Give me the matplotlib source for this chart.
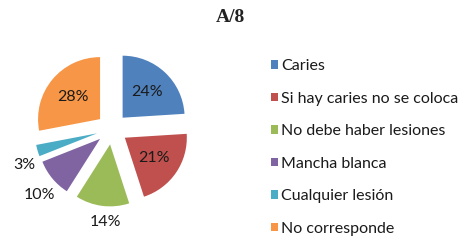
import numpy as np
import matplotlib
matplotlib.use('Agg')
import matplotlib.pyplot as plt

labels = ['Caries', 'Si hay caries no se coloca', 'No debe haber lesiones',
          'Mancha blanca', 'Cualquier lesión', 'No corresponde']
values = [24, 21, 14, 10, 3, 28]
colors = ['#4F81BD', '#C0504D', '#9BBB59', '#8064A2', '#4BACC6', '#F79646']

plt.rcParams['font.family'] = ['Lato', 'DejaVu Sans']

fig = plt.figure(figsize=(4.61, 2.47), dpi=100)
fig.text(0.5, 1 - 18 / 247, 'A/8', ha='center', va='center', fontsize=14,
         fontweight='bold', family='Liberation Serif', color='#222222')

# pie axes: 200x200 px box centred at (112, 129) px
ax = fig.add_axes([12 / 461, 1 - 229 / 247, 200 / 461, 200 / 247])
expl = 0.25
wedges, texts, autotexts = ax.pie(values, colors=colors, startangle=90, counterclock=False,
                                  explode=[expl] * len(values), autopct='%d%%',
                                  pctdistance=0.57,
                                  textprops=dict(fontsize=11.5, color='#1a1a1a'))
L = 100 / 62
ax.set_xlim(-L, L)
ax.set_ylim(-L, L)
ax.set_aspect('equal')

# small slices: labels outside
outside = {2: (1.5, 3), 3: (1.58, 3), 4: (1.52, 6)}
for i, (dist, shift) in outside.items():
    w = wedges[i]
    ang = np.deg2rad((w.theta1 + w.theta2) / 2 + shift)
    autotexts[i].set_position((dist * np.cos(ang), dist * np.sin(ang)))

fig.legend(wedges, labels, loc='upper left', bbox_to_anchor=(271 / 461, 1 - 59 / 247),
           frameon=False, fontsize=11.5, handlelength=0.45, handleheight=0.45,
           handletextpad=0.2, labelspacing=1.16, borderaxespad=0, borderpad=0,
           labelcolor='#1a1a1a')

fig.savefig('out.png', dpi=100)
